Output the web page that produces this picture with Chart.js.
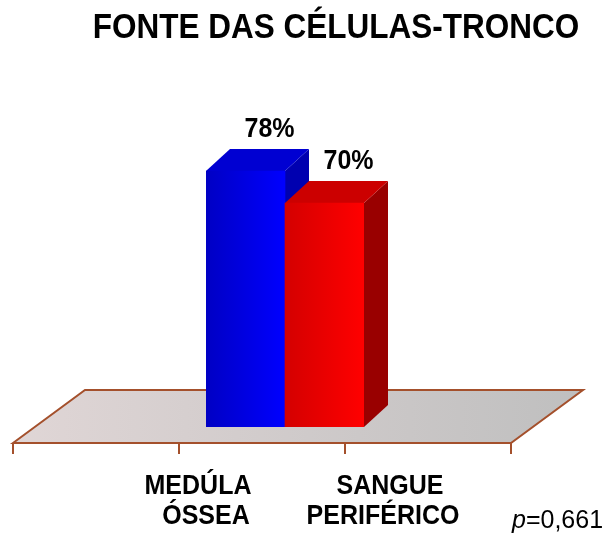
<!DOCTYPE html>
<html>
<head>
<meta charset="utf-8">
<script src="https://cdn.jsdelivr.net/npm/chart.js@4.4.1/dist/chart.umd.min.js"></script>
<style>
  body { margin: 0; background: #ffffff; }
  #chart { display: block; }
</style>
</head>
<body>
<canvas id="chart" width="611" height="533"></canvas>
<script>
// chart data
var chartTitle = "FONTE DAS CÉLULAS-TRONCO";
var categories = ["MEDÚLA ÓSSEA", "SANGUE PERIFÉRICO"];
var categoryLines = [["MEDÚLA", "ÓSSEA"], ["SANGUE", "PERIFÉRICO"]];
var values = [78, 70];
var valueLabels = ["78%", "70%"];
var pValueText = ["p", "=0,661"];
var floorSlots = 3;

// colours for each bar: [front left, front right, top, side]
var barShades = [
  ["#0000c4", "#0000ff", "#0000d2", "#0000b0"],
  ["#d40000", "#ff0000", "#cc0000", "#990000"]
];

var depthX = 24, depthY = 22;
var FONT = "'Liberation Sans', Arial, sans-serif";

function stretchedText(ctx, text, x, y, font, sy) {
  ctx.save();
  ctx.font = font;
  ctx.translate(x, y);
  ctx.scale(1, sy);
  ctx.fillText(text, 0, 0);
  ctx.restore();
}

var threeD = {
  id: "threeD",
  beforeDatasetsDraw: function(chart) {
    var ctx = chart.ctx;
    var area = chart.chartArea;

    // floor of the 3d plot
    var frontY = area.bottom + 16, backY = area.bottom - 37;
    var fl = area.left - 193, fr = area.right + 147, shift = 72;
    ctx.save();
    var g = ctx.createLinearGradient(fl, 0, fr + shift, 0);
    g.addColorStop(0, "#e0d6d6");
    g.addColorStop(1, "#bfbfbf");
    ctx.beginPath();
    ctx.moveTo(fl, frontY);
    ctx.lineTo(fl + shift, backY);
    ctx.lineTo(fr + shift, backY);
    ctx.lineTo(fr, frontY);
    ctx.closePath();
    ctx.fillStyle = g;
    ctx.fill();
    ctx.strokeStyle = "#a4502c";
    ctx.lineWidth = 2;
    ctx.stroke();
    // tick marks along the front edge
    ctx.beginPath();
    for (var i = 0; i <= floorSlots; i++) {
      var tx = fl + i * (fr - fl) / floorSlots;
      ctx.moveTo(tx, frontY);
      ctx.lineTo(tx, frontY + 11);
    }
    ctx.stroke();

    // side and top faces of each bar (bars start at the bottom of the area)
    var meta = chart.getDatasetMeta(0);
    meta.data.forEach(function(bar, i) {
      var l = bar.x - bar.width / 2, r = bar.x + bar.width / 2;
      var top = bar.y, base = Math.min(bar.base, area.bottom);
      ctx.beginPath();
      ctx.moveTo(r, top);
      ctx.lineTo(r + depthX, top - depthY);
      ctx.lineTo(r + depthX, base - depthY);
      ctx.lineTo(r, base);
      ctx.closePath();
      ctx.fillStyle = barShades[i][3];
      ctx.fill();
      ctx.beginPath();
      ctx.moveTo(l, top);
      ctx.lineTo(l + depthX, top - depthY);
      ctx.lineTo(r + depthX, top - depthY);
      ctx.lineTo(r, top);
      ctx.closePath();
      ctx.fillStyle = barShades[i][2];
      ctx.fill();
    });
    ctx.restore();
  },
  afterDraw: function(chart) {
    var ctx = chart.ctx;
    var meta = chart.getDatasetMeta(0);
    ctx.save();
    ctx.fillStyle = "#000000";
    ctx.textAlign = "center";
    ctx.textBaseline = "middle";

    // title
    stretchedText(ctx, chartTitle, 336, 28, "bold 31.5px " + FONT, 1.12);

    // value labels above the bars
    meta.data.forEach(function(bar, i) {
      stretchedText(ctx, valueLabels[i], bar.x + depthX, bar.y - depthY - 20, "bold 25px " + FONT, 1.1);
    });

    // category text under the floor
    var labelX = [[198, 206], [390, 383]];
    categoryLines.forEach(function(lines, i) {
      lines.forEach(function(line, j) {
        stretchedText(ctx, line, labelX[i][j], 486 + j * 30, "bold 25px " + FONT, 1.1);
      });
    });

    // p value
    ctx.textAlign = "left";
    ctx.font = "italic 25px " + FONT;
    var pw = ctx.measureText(pValueText[0]).width;
    stretchedText(ctx, pValueText[0], 512, 521, "italic 25px " + FONT, 1.05);
    stretchedText(ctx, pValueText[1], 512 + pw, 521, "25px " + FONT, 1.05);
    ctx.restore();
  }
};

function frontFill(context) {
  var chart = context.chart;
  var xs = chart.scales.x;
  var i = context.dataIndex;
  if (!xs || !chart.chartArea || xs.width == null) return barShades[i][1];
  var cx = xs.getPixelForValue(i);
  var w = xs.width / categories.length;
  var g = chart.ctx.createLinearGradient(cx - w / 2, 0, cx + w / 2, 0);
  g.addColorStop(0, barShades[i][0]);
  g.addColorStop(1, barShades[i][1]);
  return g;
}

var chart = new Chart(document.getElementById("chart"), {
  type: "bar",
  data: {
    labels: categories,
    datasets: [{
      data: values,
      backgroundColor: frontFill,
      borderWidth: 0,
      barPercentage: 1,
      categoryPercentage: 1
    }]
  },
  options: {
    responsive: false,
    animation: false,
    layout: {
      padding: { top: 83, left: 206, right: 247, bottom: 106 }
    },
    plugins: {
      legend: { display: false },
      tooltip: { enabled: false },
      title: { display: false }
    },
    scales: {
      x: { display: false, grid: { display: false } },
      y: { display: false, min: 14, max: 100, grid: { display: false } }
    }
  },
  plugins: [threeD]
});
</script>
</body>
</html>
